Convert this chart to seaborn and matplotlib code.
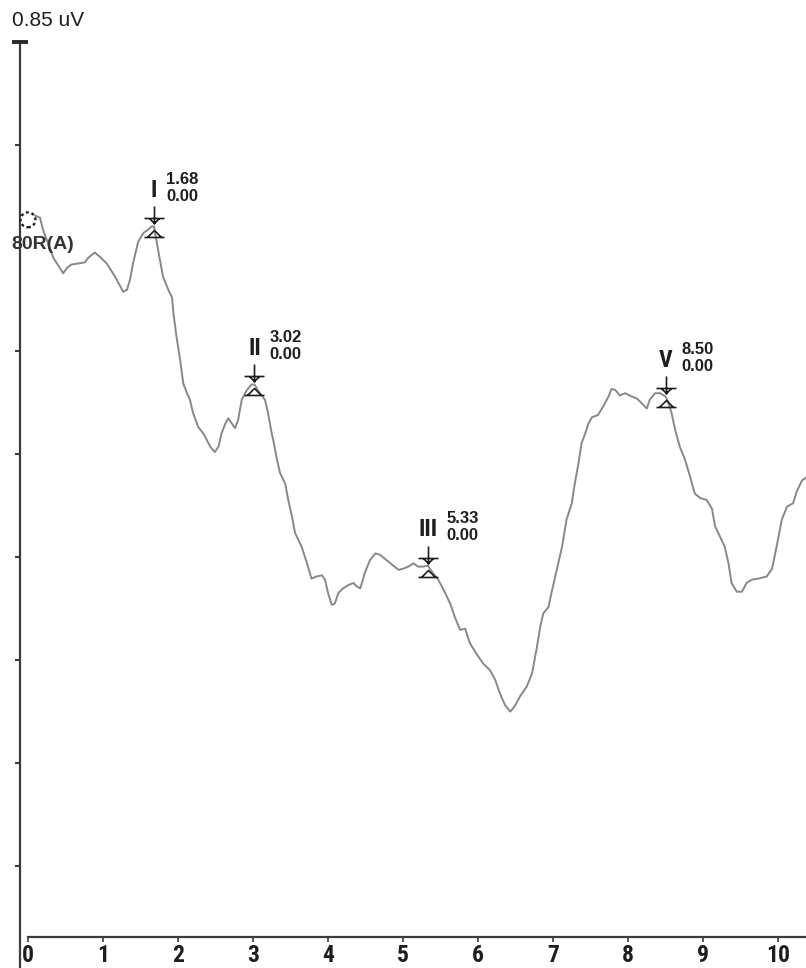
import numpy as np
import matplotlib
matplotlib.use("Agg")
import matplotlib.pyplot as plt
from matplotlib.path import Path
from matplotlib import font_manager
import seaborn as sns

# Evoked response trace: latency (ms) and amplitude (uV)
latency_ms = [
    0.00, 0.09, 0.16, 0.20, 0.34, 0.47, 0.52, 0.58, 0.67, 0.76, 0.80, 0.89, 0.96,
    1.05, 1.16, 1.27, 1.32, 1.36, 1.40, 1.47, 1.54, 1.60, 1.65, 1.68, 1.72, 1.76,
    1.80, 1.87, 1.92, 1.94, 1.98, 2.03, 2.07, 2.12, 2.16, 2.20, 2.27, 2.34, 2.43,
    2.49, 2.54, 2.58, 2.63, 2.67, 2.72, 2.76, 2.80, 2.85, 2.92, 2.98, 3.02, 3.09,
    3.16, 3.20, 3.25, 3.27, 3.32, 3.36, 3.43, 3.47, 3.52, 3.56, 3.65, 3.72, 3.78,
    3.85, 3.92, 3.96, 4.00, 4.05, 4.09, 4.14, 4.20, 4.27, 4.34, 4.38, 4.43, 4.49,
    4.56, 4.63, 4.69, 4.78, 4.87, 4.94, 5.00, 5.07, 5.14, 5.20, 5.27, 5.33, 5.40,
    5.47, 5.54, 5.63, 5.69, 5.76, 5.83, 5.89, 5.98, 6.07, 6.16, 6.23, 6.29, 6.36,
    6.43, 6.49, 6.56, 6.65, 6.72, 6.78, 6.83, 6.87, 6.94, 6.98, 7.05, 7.12, 7.18,
    7.25, 7.29, 7.34, 7.38, 7.43, 7.47, 7.52, 7.60, 7.67, 7.74, 7.78, 7.83, 7.89,
    7.96, 8.05, 8.12, 8.18, 8.25, 8.29, 8.36, 8.43, 8.50, 8.54, 8.58, 8.63, 8.69,
    8.76, 8.83, 8.89, 8.96, 9.05, 9.12, 9.16, 9.23, 9.29, 9.34, 9.38, 9.45, 9.52,
    9.58, 9.65, 9.74, 9.85, 9.92, 9.98, 10.05, 10.12, 10.20, 10.25, 10.32, 10.38,
]
amplitude_uv = [
    0.687, 0.691, 0.689, 0.678, 0.652, 0.638, 0.643, 0.646, 0.647, 0.648, 0.652, 0.657, 0.653,
    0.647, 0.635, 0.621, 0.623, 0.632, 0.647, 0.667, 0.675, 0.678, 0.681, 0.681, 0.665, 0.650,
    0.635, 0.623, 0.616, 0.601, 0.580, 0.558, 0.537, 0.528, 0.522, 0.510, 0.497, 0.491, 0.479,
    0.474, 0.479, 0.491, 0.500, 0.505, 0.500, 0.496, 0.503, 0.522, 0.531, 0.536, 0.536, 0.528,
    0.522, 0.510, 0.491, 0.485, 0.467, 0.455, 0.445, 0.430, 0.415, 0.400, 0.387, 0.372, 0.358,
    0.360, 0.361, 0.357, 0.345, 0.334, 0.335, 0.345, 0.349, 0.352, 0.354, 0.351, 0.349, 0.363,
    0.375, 0.381, 0.380, 0.375, 0.370, 0.366, 0.367, 0.369, 0.372, 0.369, 0.369, 0.370, 0.363,
    0.357, 0.348, 0.335, 0.323, 0.311, 0.312, 0.299, 0.289, 0.280, 0.274, 0.265, 0.253, 0.242,
    0.236, 0.241, 0.250, 0.259, 0.271, 0.293, 0.314, 0.326, 0.332, 0.345, 0.366, 0.387, 0.412,
    0.427, 0.445, 0.464, 0.482, 0.491, 0.500, 0.506, 0.508, 0.516, 0.525, 0.532, 0.531, 0.526,
    0.528, 0.525, 0.523, 0.519, 0.514, 0.522, 0.528, 0.528, 0.525, 0.519, 0.510, 0.494, 0.479,
    0.467, 0.451, 0.436, 0.432, 0.430, 0.422, 0.406, 0.396, 0.387, 0.372, 0.354, 0.346, 0.346,
    0.354, 0.357, 0.358, 0.360, 0.367, 0.387, 0.412, 0.424, 0.427, 0.438, 0.448, 0.451,
]

# Marked waves
peak_names = ["I", "II", "III", "V"]
peak_latency = [1.68, 3.02, 5.33, 8.50]
peak_value = [0.00, 0.00, 0.00, 0.00]

channel_label = "80R(A)"
scale_uv = 0.85
scale_divisions = 9
x_ticks = list(range(11))

# Layout (axes span the whole canvas)
X_RANGE = (-0.373, 10.373)
Y_RANGE = (0.0009, 0.8886)
Y_AXIS_X = -0.107
X_AXIS_Y = 0.0293

sns.set_style("white")
plt.rcParams["font.family"] = ["Liberation Sans", "DejaVu Sans"]

available = {f.name for f in font_manager.fontManager.ttflist}
narrow = next((n for n in ["Liberation Sans Narrow", "Arial Narrow", "Roboto Condensed"]
               if n in available), "Liberation Sans")
narrow_family = [narrow, "Liberation Sans", "DejaVu Sans"]

AXIS_COLOR = "#3c3c3c"
TRACE_COLOR = "#888888"
INK = "#1e1e1e"

fig = plt.figure(figsize=(8.06, 9.68), dpi=100)
ax = fig.add_axes([0, 0, 1, 1])
ax.set_facecolor("white")

sns.lineplot(x=latency_ms, y=amplitude_uv, ax=ax, color=TRACE_COLOR,
             linewidth=1.4, sort=False, estimator=None, zorder=2)

ax.set_xlim(*X_RANGE)
ax.set_ylim(*Y_RANGE)

# Axes lines
for side in ("top", "right"):
    ax.spines[side].set_visible(False)
ax.spines["left"].set_position(("data", Y_AXIS_X))
ax.spines["left"].set_bounds(0.0, scale_uv)
ax.spines["bottom"].set_position(("data", X_AXIS_Y))
ax.spines["bottom"].set_bounds(0, X_RANGE[1])
for side in ("left", "bottom"):
    ax.spines[side].set_color(AXIS_COLOR)
    ax.spines[side].set_linewidth(1.6)

ax.set_xticks(x_ticks)
ax.set_xticklabels([str(t) for t in x_ticks], fontfamily=narrow_family,
                   fontweight="bold", fontsize=17, color=INK)
ax.tick_params(axis="x", direction="out", length=3.6, width=1.2, pad=1.5,
               color=AXIS_COLOR, bottom=True)

div = scale_uv / scale_divisions
ax.set_yticks([k * div for k in range(1, scale_divisions)])
ax.set_yticklabels([])
ax.tick_params(axis="y", direction="out", length=3.6, width=1.5,
               color=AXIS_COLOR, left=True)

# Full-scale mark and its label
ax.plot([Y_AXIS_X], [scale_uv], marker="_", markersize=11, markeredgewidth=2.8,
        color="#2a2a2a", clip_on=False, zorder=4)
ax.annotate(f"{scale_uv:.2f} uV", xy=(Y_AXIS_X, scale_uv), xytext=(-8, 22),
            textcoords="offset pixels", ha="left", va="center",
            fontsize=15, color=INK)

# Trace start marker and channel name
ax.scatter([latency_ms[0]], [amplitude_uv[0]], s=115, facecolors="white",
           edgecolors="#1e1e1e", linestyles=(0, (1.2, 1.2)), linewidths=1.7,
           zorder=5)
ax.annotate(channel_label, xy=(latency_ms[0], amplitude_uv[0]), xytext=(-17, -25),
            textcoords="offset pixels", ha="left", va="center",
            fontsize=14, fontweight="bold", color="#333333", zorder=6)

# Cursor glyph: arrow with bar above the wave point, flat triangle below it
M, L = Path.MOVETO, Path.LINETO
cursor_verts = [
    (0, 20), (0, 2),
    (-10, 8), (10, 8),
    (-5, 8), (0, 3), (5, 8),
    (-10, -11), (10, -11),
    (-7, -11), (0, -4), (7, -11),
]
cursor_codes = [M, L, M, L, M, L, L, M, L, M, L, L]
cursor_path = Path(cursor_verts, cursor_codes)
extent_px = np.max(np.abs(cursor_verts))
cursor_size = 2 * extent_px * 72 / fig.dpi

for name, lat, val in zip(peak_names, peak_latency, peak_value):
    y = np.interp(lat, latency_ms, amplitude_uv)
    ax.plot([lat], [y], marker=cursor_path, markersize=cursor_size,
            markeredgewidth=1.2, markerfacecolor="none", color=INK,
            linestyle="none", zorder=4)
    numeral = ax.annotate(name, xy=(lat, y), xytext=(0, 36),
                          textcoords="offset pixels", ha="center", va="center",
                          fontfamily=narrow_family, fontweight="bold",
                          fontsize=17, color=INK)
    ax.annotate(f"{lat:.2f}", xy=(1, 0.5), xycoords=numeral, xytext=(9, 11),
                textcoords="offset pixels", ha="left", va="center",
                fontweight="bold", fontsize=12, color=INK)
    ax.annotate(f"{val:.2f}", xy=(1, 0.5), xycoords=numeral, xytext=(9, -6),
                textcoords="offset pixels", ha="left", va="center",
                fontweight="bold", fontsize=12, color=INK)

fig.savefig("out.png", dpi=100, facecolor="white")
